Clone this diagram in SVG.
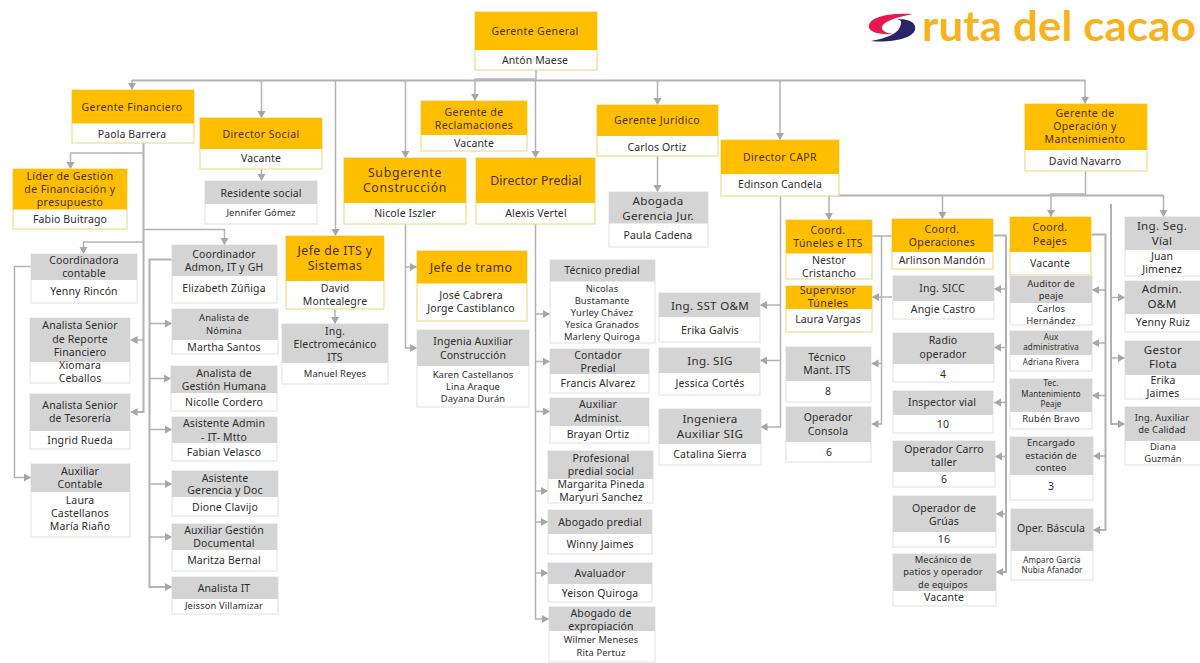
<svg xmlns="http://www.w3.org/2000/svg" width="1200" height="663" viewBox="0 0 1200 663">
<style>
text{font-family:"Noto Sans","Liberation Sans",sans-serif;text-anchor:middle;font-size:10.5px;letter-spacing:.12px;fill:#2e2e2e}
.by{fill:#fff;stroke:#efdc8a;stroke-width:1.2}
.bg{fill:#fff;stroke:#e6e6e6;stroke-width:1.2}
.hy{fill:#ffbf00}
.hg{fill:#d4d4d4}
.ty{fill:#4a3000;letter-spacing:.4px}
.l{font-size:12.3px}
.m{font-size:11.6px;letter-spacing:.3px}
.s{font-size:9.4px}
.x{font-size:8px}
.c path{fill:none;stroke:#b2b2b2;stroke-width:1.5}
.c .a{marker-end:url(#ar)}
.c .w{stroke-width:2}
.logo{font-family:"Lato","Noto Sans",sans-serif;font-weight:700;font-size:42px;fill:#f7b21c;text-anchor:start}
</style>
<defs>
<marker id="ar" markerUnits="userSpaceOnUse" markerWidth="9" markerHeight="9" refX="7" refY="4" orient="auto"><path d="M0 0L7 4L0 8Z" fill="#a6a6a6"/></marker>
</defs>
<rect width="1200" height="663" fill="#fff"/>
<g class="c" id="connectors">
<path class="w" d="M132 80.500H1085"/>
<path d="M536 70V80"/>
<path class="a" d="M132 80V90"/>
<path class="a" d="M261.500 80V118"/>
<path class="a" d="M335.500 80V236"/>
<path class="a" d="M405.500 80V158"/>
<path class="a" d="M536 79H475V101"/>
<path class="a" d="M535.500 80V158"/>
<path class="a" d="M657.500 80V105"/>
<path class="a" d="M780 80V140"/>
<path class="a" d="M1085 80V104"/>
<path class="a" d="M143.500 153H70.500V169"/>
<path class="a" d="M143.500 242H83.500V254"/>
<path class="a" d="M143.500 229.500H224.500V245"/>
<path class="a w" d="M143.500 143V412H130.500"/>
<path class="a" d="M143.500 340H130.500"/>
<path class="a" d="M31 266.500H14.500V477.500H31"/>
<path class="a w" d="M172 259.500H149.500V587H172"/>
<path class="a" d="M149.500 323.500H172"/>
<path class="a" d="M149.500 378.500H171"/>
<path class="a" d="M149.500 429.500H172"/>
<path class="a" d="M149.500 484H172"/>
<path class="a" d="M149.500 537H172"/>
<path class="a" d="M261.500 169V181"/>
<path class="a" d="M335 309V324"/>
<path class="a" d="M405.500 224V348H417"/>
<path class="a" d="M405.500 267H417"/>
<path class="a" d="M535.500 224V619H549"/>
<path class="a" d="M535.500 314H550"/>
<path class="a" d="M535.500 361.500H550"/>
<path class="a" d="M535.500 411.500H550"/>
<path class="a" d="M535.500 491H548"/>
<path class="a" d="M535.500 522H548"/>
<path class="a" d="M535.500 573H548"/>
<path class="a" d="M657.500 156V192"/>
<path class="a" d="M780.500 196V427H760.500"/>
<path class="a" d="M780.500 305H760"/>
<path class="a" d="M780.500 360.500H760"/>
<path d="M1085.500 171V195"/>
<path class="w" d="M829 195.500H1163.500"/>
<path class="a" d="M829 195.500V220"/>
<path class="a" d="M942.500 195.500V219"/>
<path class="a" d="M1085.500 194H1051V217"/>
<path class="a" d="M1163.500 195.500V217"/>
<path d="M872 236H892"/>
<path class="a" d="M881.500 236V424H871.500"/>
<path class="a" d="M892 297H872"/>
<path class="a" d="M881.500 363.500H871.500"/>
<path class="a w" d="M993 235.500H1006V572H996"/>
<path class="a" d="M1006 289H994"/>
<path class="a" d="M1006 347.500H994"/>
<path class="a" d="M1006 402.500H994"/>
<path class="a" d="M1006 456.500H995"/>
<path class="a" d="M1006 514H996"/>
<path class="a w" d="M1091 234.500H1105.500V530H1093"/>
<path class="a" d="M1105.500 290H1092"/>
<path class="a" d="M1105.500 343H1092"/>
<path class="a" d="M1105.500 395.500H1092"/>
<path class="a" d="M1105.500 456H1093"/>
<path class="a w" d="M1111 204V424H1125"/>
<path class="a" d="M1111 297.500H1125"/>
<path class="a" d="M1111 358H1125"/>
</g>
<g id="logo">
<path d="M913 14C895 13 872 15 869 25C867 32 880 35 893 34C885 33 881 30 882 27C883 22 893 18 913 14Z" fill="#e8174f"/>
<path d="M871 41C890 43 912 39 915 30C917 22 908 19 897 19C903 20 901 24 900 27C898 33 888 38 871 41Z" fill="#2a2467"/>
<text class="logo" x="922" y="41" textLength="274" lengthAdjust="spacingAndGlyphs">ruta del cacao</text>
</g>
<g id="n-gerente-general"><rect class="by" x="475" y="12" width="122" height="58"/><rect class="hy" x="475" y="12" width="122" height="38"/><text class="ty" x="535" y="35">Gerente General</text><text x="535" y="64">Antón Maese</text></g>
<g id="n-gerente-financiero"><rect class="by" x="72" y="90" width="122" height="53"/><rect class="hy" x="72" y="90" width="122" height="33.500"/><text class="ty" x="132" y="110.500">Gerente Financiero</text><text x="132" y="137.500">Paola Barrera</text></g>
<g id="n-director-social"><rect class="by" x="200" y="118" width="122" height="51"/><rect class="hy" x="200" y="118" width="122" height="31"/><text class="ty" x="261" y="137.500">Director Social</text><text x="261" y="162">Vacante</text></g>
<g id="n-lider"><rect class="by" x="13" y="169" width="114" height="60"/><rect class="hy" x="13" y="169" width="114" height="40.500"/><text class="ty" x="70" y="179.500">Líder de Gestión</text><text class="ty" x="70" y="192.500">de Financiación y</text><text class="ty" x="70" y="206">presupuesto</text><text x="70" y="223">Fabio Buitrago</text></g>
<g id="n-residente"><rect class="bg" x="205" y="181" width="112" height="43"/><rect class="hg" x="205" y="181" width="112" height="23"/><text x="261" y="197">Residente social</text><text class="s" x="261" y="216">Jennifer Gómez</text></g>
<g id="n-subgerente"><rect class="by" x="344" y="158" width="122" height="66"/><rect class="hy" x="344" y="158" width="122" height="45"/><text class="ty l" x="405" y="177" style="letter-spacing:.7px">Subgerente</text><text class="ty l" x="405" y="192" style="letter-spacing:.7px">Construcción</text><text x="405" y="217">Nicole Iszler</text></g>
<g id="n-reclamaciones"><rect class="by" x="421" y="101" width="106" height="50"/><rect class="hy" x="421" y="101" width="106" height="34"/><text class="ty" x="474" y="116">Gerente de</text><text class="ty" x="474" y="129">Reclamaciones</text><text x="474" y="147">Vacante</text></g>
<g id="n-juridico"><rect class="by" x="597" y="105" width="121" height="51"/><rect class="hy" x="597" y="105" width="121" height="31"/><text class="ty" x="657" y="124">Gerente Jurídico</text><text x="657" y="151">Carlos Ortiz</text></g>
<g id="n-abogada"><rect class="bg" x="609" y="192" width="99" height="55"/><rect class="hg" x="609" y="192" width="99" height="31.500"/><text class="m" x="658" y="205">Abogada</text><text class="m" x="658" y="220">Gerencia Jur.</text><text x="658" y="239">Paula Cadena</text></g>
<g id="n-predial"><rect class="by" x="476" y="158" width="119" height="66"/><rect class="hy" x="476" y="158" width="119" height="45"/><text class="ty l" x="536" y="185" style="letter-spacing:.1px">Director Predial</text><text x="536" y="217">Alexis Vertel</text></g>
<g id="n-capr"><rect class="by" x="721" y="140" width="118" height="56"/><rect class="hy" x="721" y="140" width="118" height="34"/><text class="ty" x="780" y="161">Director CAPR</text><text x="780" y="188">Edinson Candela</text></g>
<g id="n-operacion"><rect class="by" x="1025" y="104" width="122" height="67"/><rect class="hy" x="1025" y="104" width="122" height="46"/><text class="ty" x="1085" y="117">Gerente de</text><text class="ty" x="1085" y="130">Operación y</text><text class="ty" x="1085" y="143">Mantenimiento</text><text x="1085" y="165">David Navarro</text></g>
<g id="n-jefe-its"><rect class="by" x="286" y="236" width="98" height="73"/><rect class="hy" x="286" y="236" width="98" height="45"/><text class="ty l" x="335" y="255">Jefe de ITS y</text><text class="ty l" x="335" y="270">Sistemas</text><text x="335" y="292">David</text><text x="335" y="305">Montealegre</text></g>
<g id="n-electro"><rect class="bg" x="282" y="324" width="106" height="60"/><rect class="hg" x="282" y="324" width="106" height="39"/><text x="335" y="335">Ing.</text><text x="335" y="347.500">Electromecánico</text><text x="335" y="360.500">ITS</text><text class="s" x="335" y="377">Manuel Reyes</text></g>
<g id="n-coordinadora"><rect class="bg" x="31" y="254" width="106" height="49"/><rect class="hg" x="31" y="254" width="106" height="26"/><text x="84" y="264">Coordinadora</text><text x="84" y="277">contable</text><text x="84" y="295">Yenny Rincón</text></g>
<g id="n-coord-admon"><rect class="bg" x="172" y="245" width="105" height="58"/><rect class="hg" x="172" y="245" width="105" height="31"/><text x="224" y="257.500">Coordinador</text><text x="224" y="270.500">Admon, IT y GH</text><text x="224" y="292">Elizabeth Zúñiga</text></g>
<g id="n-nomina"><rect class="bg" x="172" y="309" width="106" height="45"/><rect class="hg" x="172" y="309" width="106" height="31"/><text class="s" x="224" y="321">Analista de</text><text class="s" x="224" y="334">Nómina</text><text x="224" y="351">Martha Santos</text></g>
<g id="n-reporte"><rect class="bg" x="30" y="318" width="100" height="65"/><rect class="hg" x="30" y="318" width="100" height="44"/><text x="80" y="329">Analista Senior</text><text x="80" y="342.500">de Reporte</text><text x="80" y="356">Financiero</text><text x="80" y="369">Xiomara</text><text x="80" y="382">Ceballos</text></g>
<g id="n-tesoreria"><rect class="bg" x="30" y="394" width="100" height="55"/><rect class="hg" x="30" y="394" width="100" height="37"/><text x="80" y="409">Analista Senior</text><text x="80" y="422">de Tesorería</text><text x="80" y="444">Ingrid Rueda</text></g>
<g id="n-aux-contable"><rect class="bg" x="31" y="464" width="99" height="73"/><rect class="hg" x="31" y="464" width="99" height="28"/><text x="80" y="475">Auxiliar</text><text x="80" y="488">Contable</text><text x="80" y="504">Laura</text><text x="80" y="517">Castellanos</text><text x="80" y="530">María Riaño</text></g>
<g id="n-gestion-humana"><rect class="bg" x="171" y="366" width="106" height="45"/><rect class="hg" x="171" y="366" width="106" height="27"/><text x="224" y="376.500">Analista de</text><text x="224" y="390">Gestión Humana</text><text x="224" y="405.500">Nicolle Cordero</text></g>
<g id="n-asistente-admin"><rect class="bg" x="172" y="417" width="105" height="44"/><rect class="hg" x="172" y="417" width="105" height="26"/><text x="224" y="427">Asistente Admin</text><text x="224" y="440.500">- IT- Mtto</text><text x="224" y="456">Fabian Velasco</text></g>
<g id="n-asistente-gerencia"><rect class="bg" x="172" y="471" width="106" height="45"/><rect class="hg" x="172" y="471" width="106" height="26"/><text x="225" y="481.500">Asistente</text><text x="225" y="494">Gerencia y Doc</text><text x="225" y="510.500">Dione Clavijo</text></g>
<g id="n-aux-gestion"><rect class="bg" x="172" y="524" width="105" height="47"/><rect class="hg" x="172" y="524" width="105" height="26"/><text x="224" y="534">Auxiliar Gestión</text><text x="224" y="547">Documental</text><text x="224" y="564">Maritza Bernal</text></g>
<g id="n-analista-it"><rect class="bg" x="172" y="577" width="106" height="37"/><rect class="hg" x="172" y="577" width="106" height="22"/><text x="224" y="592">Analista IT</text><text class="s" x="224" y="609">Jeisson Villamizar</text></g>
<g id="n-jefe-tramo"><rect class="by" x="417" y="251" width="110" height="70"/><rect class="hy" x="417" y="251" width="110" height="32.500"/><text class="ty l" x="471" y="272">Jefe de tramo</text><text x="471" y="298.500">José Cabrera</text><text x="471" y="311.500">Jorge Castiblanco</text></g>
<g id="n-ingenia"><rect class="bg" x="417" y="330" width="112" height="77"/><rect class="hg" x="417" y="330" width="112" height="36"/><text x="473" y="345">Ingenia Auxiliar</text><text x="473" y="359">Construcción</text><text class="s" x="473" y="377.500">Karen Castellanos</text><text class="s" x="473" y="389.500">Lina Araque</text><text class="s" x="473" y="401.500">Dayana Durán</text></g>
<g id="n-tecnico-predial"><rect class="bg" x="550" y="260" width="105" height="83"/><rect class="hg" x="550" y="260" width="105" height="21.500"/><text x="602" y="274">Técnico predial</text><text class="s" x="602" y="291.500">Nicolas</text><text class="s" x="602" y="303.500">Bustamante</text><text class="s" x="602" y="315.500">Yurley Chávez</text><text class="s" x="602" y="327.500">Yesica Granados</text><text class="s" x="602" y="340">Marleny Quiroga</text></g>
<g id="n-contador"><rect class="bg" x="550" y="349" width="99" height="44"/><rect class="hg" x="550" y="349" width="99" height="25"/><text x="598" y="358.500">Contador</text><text x="598" y="371.500">Predial</text><text x="598" y="387">Francis Alvarez</text></g>
<g id="n-auxiliar-admin"><rect class="bg" x="550" y="398" width="99" height="45"/><rect class="hg" x="550" y="398" width="99" height="28"/><text x="598" y="408">Auxiliar</text><text x="598" y="421.500">Administ.</text><text x="598" y="438">Brayan Ortiz</text></g>
<g id="n-profesional"><rect class="bg" x="548" y="451" width="105" height="52"/><rect class="hg" x="548" y="451" width="105" height="28"/><text x="601" y="462">Profesional</text><text x="601" y="475">predial social</text><text x="601" y="488">Margarita Pineda</text><text x="601" y="501">Maryuri Sanchez</text></g>
<g id="n-abogado-predial"><rect class="bg" x="548" y="510" width="104" height="44"/><rect class="hg" x="548" y="510" width="104" height="24"/><text x="600" y="525.500">Abogado predial</text><text x="600" y="548">Winny Jaimes</text></g>
<g id="n-avaluador"><rect class="bg" x="548" y="563" width="104" height="39"/><rect class="hg" x="548" y="563" width="104" height="21"/><text x="600" y="577">Avaluador</text><text x="600" y="597">Yeison Quiroga</text></g>
<g id="n-expropiacion"><rect class="bg" x="549" y="607" width="106" height="55"/><rect class="hg" x="549" y="607" width="106" height="24"/><text x="601" y="617">Abogado de</text><text x="601" y="630">expropiación</text><text class="s" x="601" y="643">Wilmer Meneses</text><text class="s" x="601" y="656">Rita Pertuz</text></g>
<g id="n-sst"><rect class="bg" x="659" y="293" width="101" height="49"/><rect class="hg" x="659" y="293" width="101" height="24"/><text class="m" x="710" y="310">Ing. SST O&amp;M</text><text x="710" y="334">Erika Galvis</text></g>
<g id="n-sig"><rect class="bg" x="659" y="348" width="101" height="47"/><rect class="hg" x="659" y="348" width="101" height="25"/><text class="m" x="710" y="365">Ing. SIG</text><text x="710" y="387">Jessica Cortés</text></g>
<g id="n-aux-sig"><rect class="bg" x="659" y="409" width="102" height="56"/><rect class="hg" x="659" y="409" width="102" height="35"/><text class="m" x="710" y="423">Ingeniera</text><text class="m" x="710" y="438">Auxiliar SIG</text><text x="710" y="458">Catalina Sierra</text></g>
<g id="n-coord-tuneles"><rect class="by" x="786" y="220" width="86" height="59"/><rect class="hy" x="786" y="220" width="86" height="33.500"/><text class="ty" x="828" y="233.500">Coord.</text><text class="ty" x="828" y="246.500">Túneles e ITS</text><text x="829" y="263.500">Nestor</text><text x="829" y="276.500">Cristancho</text></g>
<g id="n-supervisor"><rect class="by" x="786" y="286" width="86" height="46"/><rect class="hy" x="786" y="286" width="86" height="23"/><text class="ty" x="828" y="294">Supervisor</text><text class="ty" x="828" y="306.500">Túneles</text><text x="828" y="322.500">Laura Vargas</text></g>
<g id="n-tecnico-its"><rect class="bg" x="786" y="347" width="85" height="55"/><rect class="hg" x="786" y="347" width="85" height="34"/><text x="827" y="361">Técnico</text><text x="827" y="374">Mant. ITS</text><text x="828" y="394.500">8</text></g>
<g id="n-consola"><rect class="bg" x="786" y="407" width="85" height="55"/><rect class="hg" x="786" y="407" width="85" height="35"/><text x="828" y="421">Operador</text><text x="828" y="434.500">Consola</text><text x="829" y="456">6</text></g>
<g id="n-coord-operaciones"><rect class="by" x="892" y="219" width="101" height="50"/><rect class="hy" x="892" y="219" width="101" height="33"/><text class="ty" x="942" y="232.500">Coord.</text><text class="ty" x="942" y="246">Operaciones</text><text x="942" y="264">Arlinson Mandón</text></g>
<g id="n-sicc"><rect class="bg" x="893" y="276" width="101" height="43"/><rect class="hg" x="893" y="276" width="101" height="25"/><text x="942" y="292">Ing. SICC</text><text x="943" y="313">Angie Castro</text></g>
<g id="n-radio"><rect class="bg" x="893" y="333" width="101" height="49"/><rect class="hg" x="893" y="333" width="101" height="31"/><text x="943" y="344">Radio</text><text x="943" y="357.500">operador</text><text x="943" y="377.500">4</text></g>
<g id="n-inspector"><rect class="bg" x="893" y="391" width="100" height="42"/><rect class="hg" x="893" y="391" width="100" height="24"/><text x="942" y="406">Inspector vial</text><text x="943" y="428">10</text></g>
<g id="n-carro"><rect class="bg" x="893" y="441" width="102" height="46"/><rect class="hg" x="893" y="441" width="102" height="31"/><text x="944" y="453">Operador Carro</text><text x="944" y="466">taller</text><text x="944" y="483">6</text></g>
<g id="n-gruas"><rect class="bg" x="893" y="496" width="103" height="51"/><rect class="hg" x="893" y="496" width="103" height="36"/><text x="944" y="511.500">Operador de</text><text x="944" y="525">Grúas</text><text x="944" y="543">16</text></g>
<g id="n-mecanico"><rect class="bg" x="893" y="554" width="103" height="52"/><rect class="hg" x="893" y="554" width="103" height="37"/><text class="s" x="943" y="562.500">Mecánico de</text><text class="s" x="943" y="575">patios y operador</text><text class="s" x="943" y="587.500">de equipos</text><text x="944" y="600.500">Vacante</text></g>
<g id="n-coord-peajes"><rect class="by" x="1010" y="217" width="81" height="58"/><rect class="hy" x="1010" y="217" width="81" height="35"/><text class="ty" x="1050" y="231">Coord.</text><text class="ty" x="1050" y="244.500">Peajes</text><text x="1050" y="267">Vacante</text></g>
<g id="n-auditor"><rect class="bg" x="1010" y="276" width="82" height="49"/><rect class="hg" x="1010" y="276" width="82" height="27"/><text class="s" x="1051" y="287">Auditor de</text><text class="s" x="1051" y="299">peaje</text><text class="s" x="1051" y="312">Carlos</text><text class="s" x="1051" y="324">Hernández</text></g>
<g id="n-aux-administrativa"><rect class="bg" x="1010" y="331" width="82" height="40"/><rect class="hg" x="1010" y="331" width="82" height="24"/><text class="x" x="1051" y="339.500">Aux</text><text class="x" x="1051" y="350">administrativa</text><text class="x" x="1051" y="365">Adriana Rivera</text></g>
<g id="n-tec-mant"><rect class="bg" x="1010" y="379" width="82" height="50"/><rect class="hg" x="1010" y="379" width="82" height="33"/><text class="x" x="1051" y="386">Tec.</text><text class="x" x="1051" y="396.500">Mantenimiento</text><text class="x" x="1051" y="407">Peaje</text><text class="s" x="1051" y="422">Rubén Bravo</text></g>
<g id="n-encargado"><rect class="bg" x="1010" y="437" width="83" height="63"/><rect class="hg" x="1010" y="437" width="83" height="38"/><text class="s" x="1051" y="446">Encargado</text><text class="s" x="1051" y="458.500">estación de</text><text class="s" x="1051" y="471">conteo</text><text x="1051" y="490">3</text></g>
<g id="n-bascula"><rect class="bg" x="1011" y="509" width="82" height="71"/><rect class="hg" x="1011" y="509" width="82" height="42"/><text x="1051" y="532">Oper. Báscula</text><text class="x" x="1052" y="562.500">Amparo García</text><text class="x" x="1052" y="573">Nubia Afanador</text></g>
<g id="n-seg-vial"><rect class="bg" x="1125" y="217" width="80" height="59"/><rect class="hg" x="1125" y="217" width="80" height="33"/><text class="m" x="1162" y="230">Ing. Seg.</text><text class="m" x="1162" y="245">Víal</text><text x="1162" y="260">Juan</text><text x="1162" y="273">Jimenez</text></g>
<g id="n-admin-om"><rect class="bg" x="1125" y="281" width="80" height="51"/><rect class="hg" x="1125" y="281" width="80" height="33"/><text class="m" x="1162" y="293">Admin.</text><text class="m" x="1162" y="308">O&amp;M</text><text x="1163" y="325.500">Yenny Ruiz</text></g>
<g id="n-flota"><rect class="bg" x="1125" y="341" width="80" height="58"/><rect class="hg" x="1125" y="341" width="80" height="34"/><text class="m" x="1163" y="353.500">Gestor</text><text class="m" x="1163" y="368">Flota</text><text x="1163" y="383.500">Erika</text><text x="1163" y="396.500">Jaimes</text></g>
<g id="n-calidad"><rect class="bg" x="1125" y="407" width="80" height="58"/><rect class="hg" x="1125" y="407" width="80" height="34"/><text class="s" x="1162" y="420.500">Ing. Auxiliar</text><text class="s" x="1162" y="432.500">de Calidad</text><text class="s" x="1163" y="450">Diana</text><text class="s" x="1163" y="462">Guzmán</text></g>
</svg>
